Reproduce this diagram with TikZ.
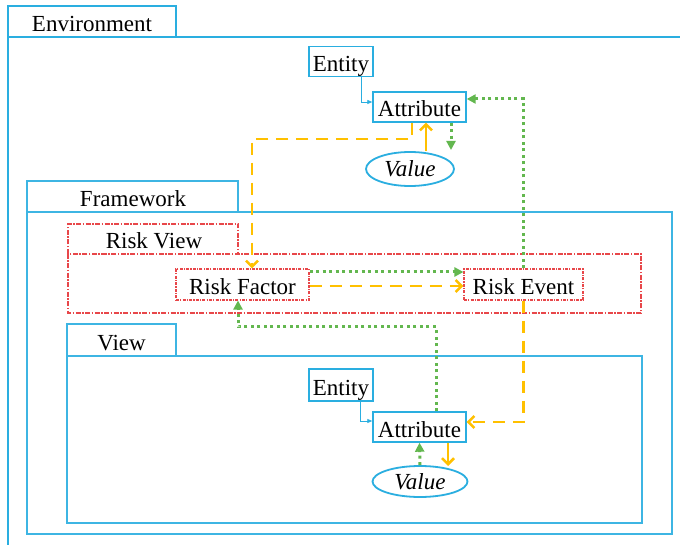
\documentclass[tikz,border=0pt]{standalone}
\usepackage{fontspec}
\setmainfont{Liberation Serif}
\usetikzlibrary{arrows.meta,shapes.geometric,calc}
\definecolor{fblue}{HTML}{3DB5E3}
\definecolor{nblue}{HTML}{2AAEE0}
\definecolor{rred}{HTML}{E8474A}
\definecolor{ylw}{HTML}{FFC000}
\definecolor{grn}{HTML}{63B74F}
\tikzset{
  txt/.style={font=\fontsize{23}{27}\selectfont, inner sep=0pt},
  lowtxt/.style={txt, text height=20pt, text depth=0pt},
  frame/.style={draw=fblue, line width=1.6pt},
  envframe/.style={draw=nblue, line width=1.2pt},
  rframe/.style={draw=rred, line width=1.1pt, dash pattern=on 5pt off 1.5pt on 1.5pt off 1.5pt},
  bbox/.style={lowtxt, draw=nblue, line width=1.4pt, fill=white, minimum height=30pt},
  rbox/.style={lowtxt, draw=rred, line width=1.1pt, fill=white, minimum height=31pt, dash pattern=on 3pt off 1.2pt on 1.2pt off 1.2pt},
  valnode/.style={txt, ellipse, draw=nblue, line width=1.8pt, fill=white, font=\fontsize{23}{27}\selectfont\itshape},
  yarrow/.style={draw=ylw, line width=2.5pt, dash pattern=on 12pt off 8pt, -{Straight Barb[length=6pt,width=12pt]}},
  ysolid/.style={draw=ylw, line width=2.5pt, -{Straight Barb[length=6pt,width=12pt]}},
  garrow/.style={draw=grn, line width=3pt, dash pattern=on 3pt off 3.5pt, -{Triangle[length=9pt,width=9pt]}},
  barrow/.style={draw=nblue, line width=0.8pt, -{Triangle[length=5pt,width=4pt]}}
}
\begin{document}
\begin{tikzpicture}[x=1pt,y=-1pt]
\useasboundingbox (0,0) rectangle (680,545);
\fill[white] (0,0) rectangle (680,545);
% Environment
\draw[envframe] (8,37) -- (8,6) -- (176,6) -- (176,37);
\draw[envframe] (8,545) -- (8,37) -- (680,37);
\node[lowtxt] (envlbl) at (92,21.5) {Environment};
% Framework
\draw[frame] (27,212) -- (27,181) -- (238,181) -- (238,212);
\draw[frame] (27,212) rectangle (672,534);
\node[lowtxt] (fwlbl) at (133,196.5) {Framework};
% Risk View
\draw[rframe] (68,254) -- (68,224) -- (238,224) -- (238,254);
\draw[rframe] (68,254) rectangle (641,313);
\node[lowtxt] (rvlbl) at (154,239) {Risk View};
% View
\draw[frame] (67,356) -- (67,324) -- (176,324) -- (176,356);
\draw[frame] (67,356) rectangle (642,523);
\node[lowtxt] (vlbl) at (121.5,340) {View};
% Top group
\node[bbox, minimum width=64pt] (E1) at (341,61.5) {Entity};
\node[bbox, minimum width=93pt] (A1) at (419.5,107) {Attribute};
\node[valnode, minimum width=88pt, minimum height=34pt] (V1) at (410,169) {Value};
% Risk nodes
\node[rbox, minimum width=133pt] (RF) at (242.5,284.5) {Risk Factor};
\node[rbox, minimum width=119pt] (RE) at (523.5,284.5) {Risk Event};
% Bottom group
\node[bbox, minimum width=64pt, minimum height=32pt] (E2) at (341,385) {Entity};
\node[bbox, minimum width=93pt] (A2) at (419.5,427) {Attribute};
\node[valnode, minimum width=95pt, minimum height=31pt] (V2) at (420,481.5) {Value};
% coordinates
\coordinate (c1) at (252,139);
\coordinate (c2) at (238,327);
\coordinate (g1) at (451,150);
\coordinate (y2) at (448,466);
% Entity -> Attribute
\draw[barrow] ([xshift=20]E1.south) |- ([yshift=5]A1.west);
\draw[barrow] ([xshift=19]E2.south) |- ([yshift=6]A2.west);
% top connectors
\draw[yarrow] ([xshift=-7.5]A1.south) |- (c1) -- ([xshift=9.5]RF.north);
\draw[ysolid] ([xshift=16]V1.north) -- ([xshift=6.5]A1.south);
\draw[garrow] ([xshift=31.5]A1.south) -- (g1);
\draw[garrow] (RE.north) |- ([yshift=8]A1.east);
% risk connectors
\draw[garrow] ([yshift=12.5]RF.east) -- ([yshift=12.5]RE.west);
\draw[yarrow] ([yshift=-1.5]RF.east) -- ([yshift=-1.5]RE.west);
% bottom connectors
\draw[garrow] ([xshift=16.5]A2.north) |- (c2) -- ([xshift=-4.5]RF.south);
\draw[yarrow] (RE.south) |- ([yshift=5]A2.east);
\draw[garrow] (V2.north) -- (A2.south);
\draw[ysolid] ([xshift=28.5]A2.south) -- (y2);
\end{tikzpicture}
\end{document}
